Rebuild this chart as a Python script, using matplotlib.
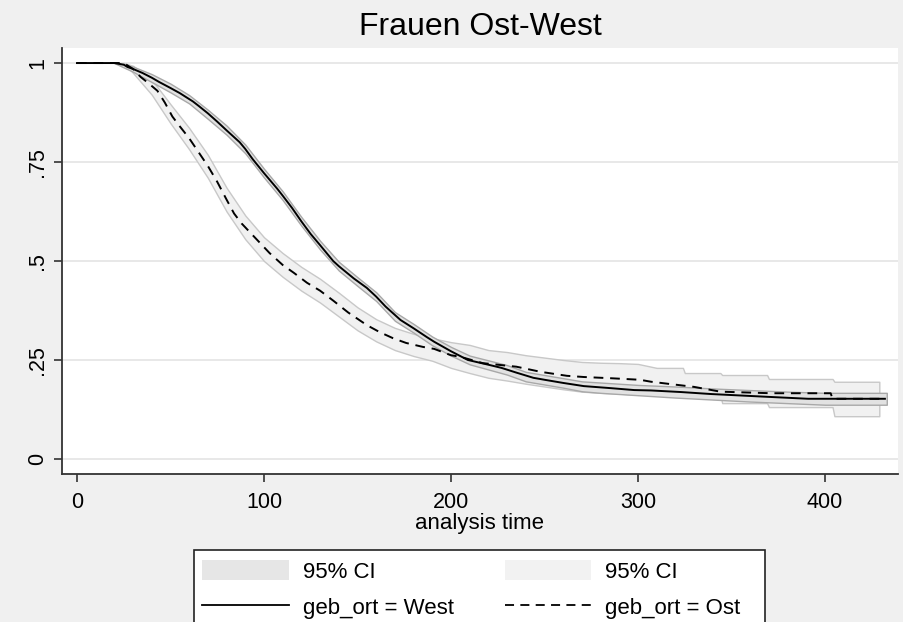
"""Kaplan-Meier survival curves with 95% CI: Frauen Ost-West."""

import matplotlib

matplotlib.use("Agg")
import matplotlib.pyplot as plt
from matplotlib.lines import Line2D
from matplotlib.patches import Patch, Rectangle

plt.rcParams["font.family"] = ["Liberation Sans", "DejaVu Sans"]

# survivor function
t_west = [0, 20, 25, 27, 30, 35, 40, 44, 50, 55, 62, 65, 70, 75, 80, 87, 90, 94, 100, 107,
          110, 115, 120, 125, 130, 137, 140, 148, 155, 160, 165, 173, 180, 187, 191, 200,
          209, 220, 227, 235, 244, 250, 260, 271, 285, 298, 307, 323, 339, 369, 391, 432]
s_west = [1.0, 1.0, 0.996, 0.99, 0.985, 0.975, 0.963, 0.952, 0.937, 0.924, 0.903, 0.892, 0.873,
          0.852, 0.83, 0.80, 0.783, 0.757, 0.722, 0.683, 0.665, 0.634, 0.60, 0.568, 0.54, 0.50,
          0.487, 0.456, 0.432, 0.41, 0.385, 0.351, 0.33, 0.308, 0.296, 0.272, 0.25, 0.238,
          0.23, 0.218, 0.205, 0.20, 0.192, 0.184, 0.179, 0.174, 0.173, 0.169, 0.164, 0.157,
          0.152, 0.152]

t_ost = [0, 25, 30, 34, 38, 43, 47, 51, 55, 60, 65, 70, 75, 80, 84, 88, 93, 98, 103, 110,
         116, 123, 130, 137, 145, 155, 162, 169, 176, 185, 191, 200, 205, 217, 227, 235,
         248, 262, 271, 285, 301, 307, 330, 344, 371, 403, 404, 431]
s_ost = [1.0, 1.0, 0.985, 0.965, 0.95, 0.93, 0.90, 0.865, 0.84, 0.81, 0.775, 0.74, 0.70,
         0.655, 0.62, 0.595, 0.57, 0.545, 0.52, 0.49, 0.47, 0.445, 0.425, 0.40, 0.37, 0.338,
         0.32, 0.305, 0.293, 0.283, 0.278, 0.262, 0.258, 0.242, 0.237, 0.233, 0.22, 0.21,
         0.207, 0.204, 0.20, 0.195, 0.182, 0.17, 0.166, 0.166, 0.152, 0.152]

# 95% confidence bands
t_west_ci = [20, 30, 40, 50, 60, 70, 80, 90, 100, 110, 120, 130, 140, 150, 160, 170, 180,
             190, 200, 210, 220, 230, 240, 250, 260, 270, 280, 290, 300, 320, 340, 360, 380,
             400, 420, 433]
lo_west = [1.0, 0.978, 0.952, 0.926, 0.898, 0.859, 0.819, 0.772, 0.711, 0.654, 0.589, 0.529,
           0.476, 0.437, 0.399, 0.349, 0.319, 0.287, 0.261, 0.239, 0.226, 0.213, 0.196, 0.188,
           0.18, 0.171, 0.167, 0.164, 0.161, 0.155, 0.15, 0.145, 0.141, 0.137, 0.137, 0.137]
hi_west = [1.0, 0.991, 0.972, 0.948, 0.919, 0.882, 0.842, 0.794, 0.733, 0.676, 0.611, 0.551,
           0.498, 0.459, 0.421, 0.371, 0.341, 0.309, 0.283, 0.261, 0.249, 0.237, 0.22, 0.212,
           0.204, 0.196, 0.193, 0.19, 0.187, 0.183, 0.178, 0.174, 0.17, 0.167, 0.167, 0.167]

t_ost_ci = [25, 30, 40, 50, 60, 70, 80, 90, 100, 110, 120, 130, 140, 150, 160, 170, 180, 190,
            200, 210, 220, 230, 240, 250, 260, 270, 280, 290, 300, 310, 324, 325, 344, 345,
            369, 370, 404, 405, 429]
lo_ost = [1.0, 0.975, 0.92, 0.848, 0.782, 0.71, 0.625, 0.555, 0.50, 0.46, 0.425, 0.395, 0.36,
          0.325, 0.297, 0.275, 0.26, 0.248, 0.23, 0.217, 0.205, 0.198, 0.19, 0.183, 0.176,
          0.17, 0.167, 0.165, 0.162, 0.162, 0.162, 0.162, 0.162, 0.141, 0.141, 0.131, 0.131,
          0.108, 0.108]
hi_ost = [1.0, 0.993, 0.958, 0.896, 0.836, 0.768, 0.685, 0.615, 0.56, 0.52, 0.485, 0.455, 0.42,
          0.383, 0.353, 0.331, 0.316, 0.305, 0.295, 0.288, 0.275, 0.27, 0.262, 0.256, 0.25,
          0.245, 0.243, 0.242, 0.24, 0.23, 0.23, 0.217, 0.217, 0.212, 0.212, 0.202, 0.202,
          0.195, 0.195]

x_ticks = [0, 100, 200, 300, 400]
y_ticks = [0, 0.25, 0.5, 0.75, 1]
y_tick_labels = ["0", ".25", ".5", ".75", "1"]

BG = "#f0f0f0"
FILL_WEST, EDGE_WEST = "#e2e2e2", "#a8a8a8"
FILL_OST, EDGE_OST = "#f1f1f1", "#c8c8c8"
DASH = (0, (5, 3.5))
W, H = 904, 622

fig = plt.figure(figsize=(W / 100, H / 100), dpi=100, facecolor=BG)
ax = fig.add_axes([62 / W, 148 / H, 836 / W, 426 / H])
ax.set_facecolor("white")

ax.fill_between(t_ost_ci, lo_ost, hi_ost, facecolor=FILL_OST, edgecolor=EDGE_OST, lw=1.0, zorder=2)
ax.fill_between(t_west_ci, lo_west, hi_west, facecolor=FILL_WEST, edgecolor=EDGE_WEST, lw=1.0, zorder=3)
ax.plot(t_west, s_west, color="black", lw=1.4, zorder=4)
ax.plot(t_ost, s_ost, color="black", lw=1.4, ls=DASH, zorder=4)

ax.set_xlim(-8, 439)
ax.set_ylim(-0.038, 1.038)
ax.set_xticks(x_ticks)
ax.set_yticks(y_ticks)
ax.set_yticklabels(y_tick_labels)
ax.grid(axis="y", color="#e6e6e6", lw=1.3, zorder=1)
ax.set_axisbelow(True)

for side in ("top", "right"):
    ax.spines[side].set_visible(False)
for side in ("left", "bottom"):
    ax.spines[side].set_linewidth(1.3)
    ax.spines[side].set_color("#333333")

ax.tick_params(axis="both", direction="out", length=6, width=1.2, color="#333333",
               labelsize=15.5, labelcolor="black")
ax.tick_params(axis="x", pad=7)
ax.tick_params(axis="y", pad=4, labelrotation=90)
for lab in ax.get_yticklabels():
    lab.set_va("center")

ax.set_xlabel("analysis time", fontsize=16, labelpad=0)
ax.set_title("Frauen Ost-West", fontsize=23, pad=9)

# legend: Stata-style box, drawn separately so it can run past the bottom edge
fig.patches.append(Rectangle((194 / W, -10 / H), (765 - 194) / W, (622 - 550 + 10) / H,
                             transform=fig.transFigure, facecolor="white",
                             edgecolor="#222222", lw=1.2, zorder=0))
handles = [
    Patch(facecolor="#e6e6e6", edgecolor="none"),
    Line2D([], [], color="black", lw=1.3),
    Patch(facecolor="#f2f2f2", edgecolor="none"),
    Line2D([], [], color="black", lw=1.3, ls=DASH),
]
labels = ["95% CI", "geb_ort = West", "95% CI", "geb_ort = Ost"]
fig.legend(handles, labels, ncol=2, loc="upper left",
           bbox_to_anchor=(202 / W, 1 - 560 / H), fontsize=16, frameon=False,
           borderpad=0, handlelength=3.9, handleheight=1.04, handletextpad=0.63,
           columnspacing=2.3, labelspacing=0.6, borderaxespad=0)

fig.savefig("out.png", dpi=100, facecolor=BG)
